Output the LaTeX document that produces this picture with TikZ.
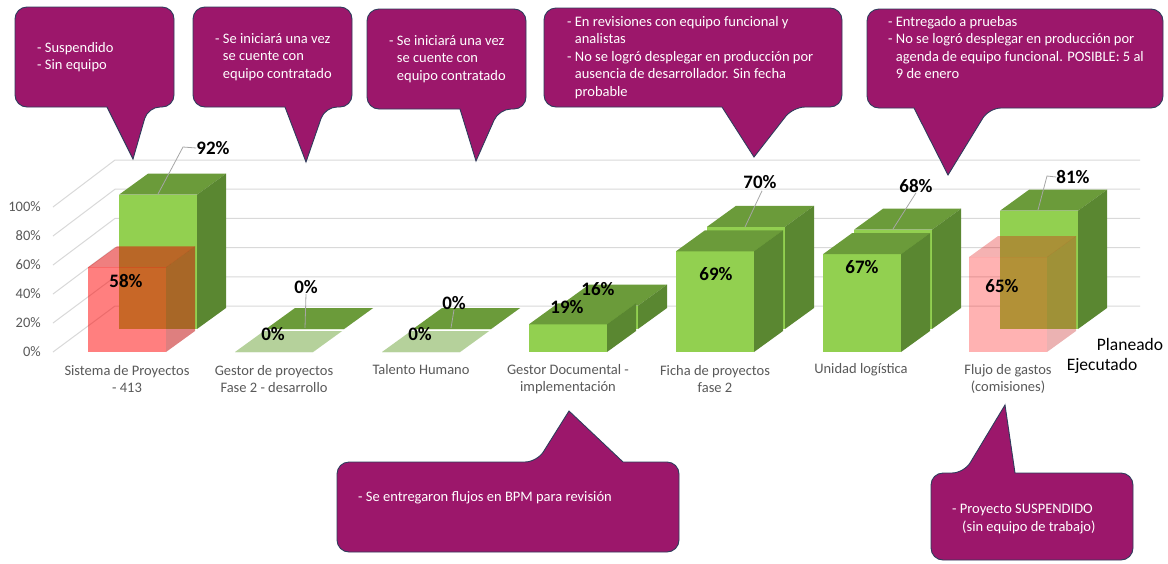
\documentclass[tikz,border=0pt]{standalone}
\usepackage{fontspec}
\setmainfont{Carlito}
\definecolor{gF}{HTML}{92D050}
\definecolor{gT}{HTML}{6B9B3A}
\definecolor{gS}{HTML}{5A8731}
\definecolor{gL}{HTML}{B5D19B}
\definecolor{pur}{HTML}{9C176B}
\definecolor{bord}{HTML}{2F3C5C}
\definecolor{axg}{HTML}{595959}
\definecolor{gridc}{HTML}{D9D9D9}
\definecolor{leadc}{HTML}{A6A6A6}
\newcommand{\hi}{\hphantom{- }}
% x, base y, percent, front colour, top colour, side colour, opacity
\newcommand{\barbox}[7]{%
  \fill[#4,opacity=#7] (#1,#2) rectangle ({#1+78},{#2-1.46*#3});
  \fill[#5,opacity=#7] (#1,{#2-1.46*#3}) -- ({#1+78},{#2-1.46*#3}) -- ({#1+107},{#2-1.46*#3-21}) -- ({#1+29},{#2-1.46*#3-21}) -- cycle;
  \fill[#6,opacity=#7] ({#1+78},#2) -- ({#1+78},{#2-1.46*#3}) -- ({#1+107},{#2-1.46*#3-21}) -- ({#1+107},{#2-21}) -- cycle;}
% callout with tail below: x1 y1 x2 y2 b1 b2 tip
\newcommand{\calloutdown}[7]{%
  \draw[callout] ({(#1+#3)/2},#2) [rounded corners=12pt] -- (#3,#2) -- (#3,#4) -- (#6,#4) [sharp corners] -- #7 -- (#5,#4) [rounded corners=12pt] -- (#1,#4) -- (#1,#2) -- cycle;}
% callout with tail above
\newcommand{\calloutup}[7]{%
  \draw[callout] ({(#1+#3)/2},#4) [rounded corners=12pt] -- (#1,#4) -- (#1,#2) -- (#5,#2) [sharp corners] -- #7 -- (#6,#2) [rounded corners=12pt] -- (#3,#2) -- (#3,#4) -- cycle;}
\begin{document}
\begin{tikzpicture}[x=1pt,y=-1pt,
  gridl/.style={draw=gridc,line width=1pt},
  callout/.style={fill=pur,draw=bord,line width=0.9pt},
  ctext/.style={font=\fontsize{14.5}{17.5}\selectfont,text=white,align=left,anchor=north west,inner sep=0pt},
  axlab/.style={font=\fontsize{14.5}{17}\selectfont,text=axg,anchor=east,inner sep=0pt},
  catlab/.style={font=\fontsize{14.5}{17.5}\selectfont,text=axg,align=center,inner sep=0pt},
  dlab/.style={font=\bfseries\fontsize{19}{22}\selectfont,text=black,inner sep=0pt},
  serlab/.style={font=\fontsize{17.5}{20}\selectfont,text=black,inner sep=0pt},
  leader/.style={draw=leadc,line width=0.8pt}]
\useasboundingbox (0,0) rectangle (1168,563);
\fill[white] (0,0) rectangle (1168,563);

% grid: side wall and back wall
\foreach \k in {0,...,5}{
  \draw[gridl] (53,{352-29*\k}) -- (115,{306-29.2*\k}) -- (1140,{306-29.2*\k});
}
% axis labels
\node[axlab] (a0) at (41,352) {0\%};
\node[axlab] (a20) at (41,323) {20\%};
\node[axlab] (a40) at (41,294) {40\%};
\node[axlab] (a60) at (41,265) {60\%};
\node[axlab] (a80) at (41,236) {80\%};
\node[axlab] (a100) at (41,207) {100\%};

% back row: Planeado
\barbox{119}{329}{92}{gF}{gT}{gS}{1}
\barbox{266}{329}{0}{gF}{gT}{gS}{1}
\barbox{413}{329}{0}{gF}{gT}{gS}{1}
\barbox{560}{329}{16}{gF}{gT}{gS}{1}
\barbox{707}{329}{70}{gF}{gT}{gS}{1}
\barbox{854}{329}{68}{gF}{gT}{gS}{1}
\barbox{1000}{329}{81}{gF}{gT}{gS}{1}
% front row: Ejecutado
\barbox{88}{352}{58}{red}{red!88!black}{red!75!black}{0.5}
\barbox{235}{352}{0}{gL}{gL}{gL}{1}
\barbox{382}{352}{0}{gL}{gL}{gL}{1}
\barbox{529}{352}{19}{gF}{gT}{gS}{1}
\barbox{676}{352}{69}{gF}{gT}{gS}{1}
\barbox{823}{352}{67}{gF}{gT}{gS}{1}
\barbox{969}{352}{65}{red}{red!88!black}{red!75!black}{0.3}

% category labels
\node[catlab] (c1) at (127,379) {Sistema de Proyectos\\- 413};
\node[catlab] (c2) at (274,379) {Gestor de proyectos\\Fase 2 - desarrollo};
\node[catlab] (c3) at (421,370) {Talento Humano};
\node[catlab] (c4) at (568,379) {Gestor Documental -\\implementación};
\node[catlab] (c5) at (715,379) {Ficha de proyectos\\fase 2};
\node[catlab] (c6) at (861,370) {Unidad logística};
\node[catlab] (c7) at (1008,379) {Flujo de gastos\\(comisiones)};
% series labels
\node[serlab] (sP) at (1130,344) {Planeado};
\node[serlab] (sE) at (1102,366) {Ejecutado};

% data labels and leaders
\node[dlab] (d92) at (213,148) {92\%};
\coordinate (k92a) at (183,147);
\coordinate (k92b) at (158,194);
\draw[leader] (d92.west) -- (k92a) -- (k92b);
\node[dlab] (d58) at (126,281) {58\%};
\node[dlab] (d0b1) at (306,287) {0\%};
\coordinate (k0b1) at (305,328);
\draw[leader] (d0b1.south) -- (k0b1);
\node[dlab] (d0f1) at (273,334) {0\%};
\node[dlab] (d0b2) at (454,303) {0\%};
\coordinate (k0b2) at (451,328);
\draw[leader] (d0b2.south) -- (k0b2);
\node[dlab] (d0f2) at (420,334) {0\%};
\node[dlab] (d16) at (598,289) {16\%};
\node[dlab] (d19) at (567,307) {19\%};
\node[dlab] (d70) at (760,182) {70\%};
\coordinate (k70) at (745,227);
\draw[leader] (d70.south) ++(2,2) -- (k70);
\node[dlab] (d69) at (716,274) {69\%};
\node[dlab] (d68) at (916,186) {68\%};
\coordinate (k68) at (893,229);
\draw[leader] (d68.south) -- (k68);
\node[dlab] (d67) at (862,267) {67\%};
\node[dlab] (d81) at (1073,177) {81\%};
\coordinate (k81a) at (1047,176);
\coordinate (k81b) at (1038,210);
\draw[leader] (d81.west) -- (k81a) -- (k81b);
\node[dlab] (d65) at (1002,286) {65\%};

% callouts
\calloutdown{15}{7}{174}{107}{107}{148}{(133,159)}
\node[ctext] (t1) at (37,42) {- Suspendido\\- Sin equipo};
\calloutdown{193}{7}{352}{107}{285}{325}{(306,162)}
\node[ctext] (t2) at (215,33) {- Se iniciará una vez\\\hi se cuente con\\\hi equipo contratado};
\calloutdown{367}{9}{526}{109}{460}{499}{(476,161)}
\node[ctext] (t3) at (389,35) {- Se iniciará una vez\\\hi se cuente con\\\hi equipo contratado};
\calloutdown{544}{8}{842}{107}{722}{793}{(754,157)}
\node[ctext] (t4) at (567,16) {- En revisiones con equipo funcional y\\\hi analistas\\- No se logró desplegar en producción por\\\hi ausencia de desarrollador. Sin fecha\\\hi probable};
\calloutdown{867}{9}{1163}{108}{914}{989}{(948,175)}
\node[ctext] (t5) at (888,16) {- Entregado a pruebas\\- No se logró desplegar en producción por\\\hi agenda de equipo funcional. POSIBLE: 5 al\\\hi 9 de enero};
\calloutup{337}{462}{679}{552}{537}{623}{(569,411)}
\node[ctext] (t6) at (358,491) {- Se entregaron flujos en BPM para revisión};
\calloutup{931}{473}{1133}{560}{964}{1015}{(1005,405)}
\node[ctext] (t7) at (952,504) {- Proyecto SUSPENDIDO\\\hspace*{10pt}(sin equipo de trabajo)};
\end{tikzpicture}
\end{document}
